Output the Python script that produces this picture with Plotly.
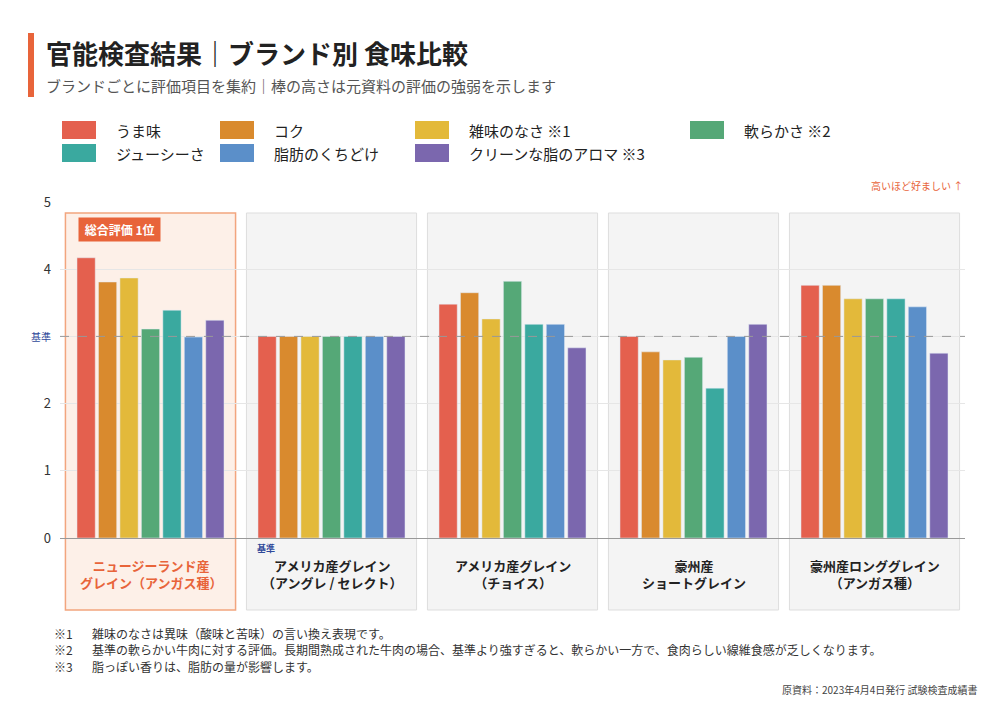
import plotly.graph_objects as go

groups = ["ニュージーランド産<br>グレイン（アンガス種）", "アメリカ産グレイン<br>（アングレ / セレクト）",
          "アメリカ産グレイン<br>（チョイス）", "豪州産<br>ショートグレイン", "豪州産ロンググレイン<br>（アンガス種）"]
series = ["うま味", "コク", "雑味のなさ ※1", "軟らかさ ※2", "ジューシーさ", "脂肪のくちどけ", "クリーンな脂のアロマ ※3"]
colors = ["#E4604E", "#D98A2E", "#E3B93A", "#55A877", "#3AA99F", "#5B8FC9", "#7B67AE"]
values = [
    [4.17, 3.0, 3.48, 3.0, 3.76],
    [3.81, 3.0, 3.65, 2.77, 3.76],
    [3.87, 3.0, 3.26, 2.65, 3.56],
    [3.11, 3.0, 3.82, 2.69, 3.56],
    [3.39, 3.0, 3.18, 2.23, 3.56],
    [2.99, 3.0, 3.18, 3.0, 3.44],
    [3.24, 3.0, 2.83, 3.18, 2.75],
]
ytick_vals = [0, 1, 2, 3, 4, 5]
ytick_text = ["0", "1", "2", "<span style='color:#2f4a9a;font-size:10px'>基準</span>", "4", "5"]

FONT = "Noto Sans CJK JP"
fig = go.Figure()
for s, c, v in zip(series, colors, values):
    fig.add_trace(go.Bar(x=list(range(5)), y=v, name=s, marker_color=c, showlegend=False))

OFF = 8  # page body margin
W, H = 1000 - 2 * OFF, 707 - 2 * OFF
# target pixel positions (in reference coords)
PL, PR, PT, PB = 60, 965, 202, 538
L, T = PL - OFF, PT - OFF
R = W - (PR - OFF)
B = H - (PB - OFF)
pw, ph = PR - PL, PB - PT
def px(x): return (x - PL) / pw
def py(y): return (PB - y) / ph

shapes, ann = [], []
for i in range(5):
    cx = (i + 0.5) / 5
    hl = i == 0
    shapes.append(dict(type="rect", xref="paper", yref="paper", x0=cx - 0.094, x1=cx + 0.094,
                       y0=py(610), y1=py(213), layer="below",
                       fillcolor="#FDF0E8" if hl else "#F4F4F4",
                       line=dict(color="#F2A57E" if hl else "#DDDDDD", width=1.5 if hl else 1)))
    ann.append(dict(xref="paper", yref="paper", x=cx, y=py(574), xanchor="center", yanchor="middle",
                    text="<b>" + groups[i] + "</b>",
                    showarrow=False, font=dict(size=13, color="#E8643A" if hl else "#222"), align="center"))
shapes.append(dict(type="line", xref="paper", yref="y", x0=0, x1=1, y0=3, y1=3,
                   line=dict(color="#999", width=1, dash="dash")))
shapes.append(dict(type="rect", xref="paper", yref="paper", x0=px(28), x1=px(34), y0=py(97), y1=py(33),
                   fillcolor="#E8643A", line_width=0))
ann.append(dict(xref="paper", yref="paper", x=px(44), y=py(52), xanchor="left", yanchor="middle",
                text="<b>官能検査結果｜ブランド別 食味比較</b>", showarrow=False, font=dict(size=26, color="#222")))
ann.append(dict(xref="paper", yref="paper", x=px(44), y=py(86), xanchor="left", yanchor="middle",
                text="ブランドごとに評価項目を集約｜棒の高さは元資料の評価の強弱を示します", showarrow=False,
                font=dict(size=15, color="#555")))
cols = [62, 220, 415, 690]
for k in range(7):
    r, cidx = divmod(k, 4)
    x0, yc = cols[cidx], 130 + r * 23
    shapes.append(dict(type="rect", xref="paper", yref="paper", x0=px(x0), x1=px(x0 + 34),
                       y0=py(yc + 9), y1=py(yc - 9), fillcolor=colors[k], line_width=0))
    ann.append(dict(xref="paper", yref="paper", x=px(x0 + 52), y=py(yc), xanchor="left", yanchor="middle",
                    text=series[k], showarrow=False, font=dict(size=15, color="#222")))
ann.append(dict(xref="paper", yref="paper", x=1, y=py(186), xanchor="right", yanchor="middle",
                text="高いほど好ましい ↑", showarrow=False, font=dict(size=10, color="#E8643A")))
ann.append(dict(xref="paper", yref="paper", x=px(119), y=py(229), xanchor="center", yanchor="middle",
                text="<b> 総合評価 1位 </b>", showarrow=False, bgcolor="#E8643A", borderpad=3,
                font=dict(size=12, color="white")))
ann.append(dict(xref="paper", yref="paper", x=px(255), y=py(548), xanchor="left", yanchor="middle",
                text="<b>基準</b>", showarrow=False, font=dict(size=9, color="#2f4a9a")))
notes = [("※1", "雑味のなさは異味（酸味と苦味）の言い換え表現です。"),
         ("※2", "基準の軟らかい牛肉に対する評価。長期間熟成された牛肉の場合、基準より強すぎると、軟らかい一方で、食肉らしい線維食感が乏しくなります。"),
         ("※3", "脂っぽい香りは、脂肪の量が影響します。")]
for j, (m, t) in enumerate(notes):
    y = py(633 + j * 16.5)
    ann.append(dict(xref="paper", yref="paper", x=px(52), y=y, xanchor="left", yanchor="middle",
                    text=m, showarrow=False, font=dict(size=12, color="#333")))
    ann.append(dict(xref="paper", yref="paper", x=px(90), y=y, xanchor="left", yanchor="middle",
                    text=t, showarrow=False, font=dict(size=12, color="#333")))
ann.append(dict(xref="paper", yref="paper", x=px(980), y=py(689), xanchor="right", yanchor="middle",
                text="原資料：2023年4月4日発行 試験検査成績書", showarrow=False, font=dict(size=10, color="#444")))

fig.update_layout(
    width=W, height=H, margin=dict(l=L, r=R, t=T, b=B),
    paper_bgcolor="white", plot_bgcolor="rgba(0,0,0,0)",
    font=dict(family=FONT, color="#333"),
    barmode="group", bargap=0.17, bargroupgap=0.15,
    xaxis=dict(range=[-0.5, 4.5], showticklabels=False, showgrid=False, zeroline=False),
    yaxis=dict(range=[0, 5], tickvals=ytick_vals, ticktext=ytick_text, gridcolor="#E6E6E6",
               zeroline=True, zerolinecolor="#999", zerolinewidth=1, tickfont=dict(size=13, color="#333"),
               ticks="", ticklabelstandoff=8),
    shapes=shapes, annotations=ann,
)
fig.write_html("out.html")
